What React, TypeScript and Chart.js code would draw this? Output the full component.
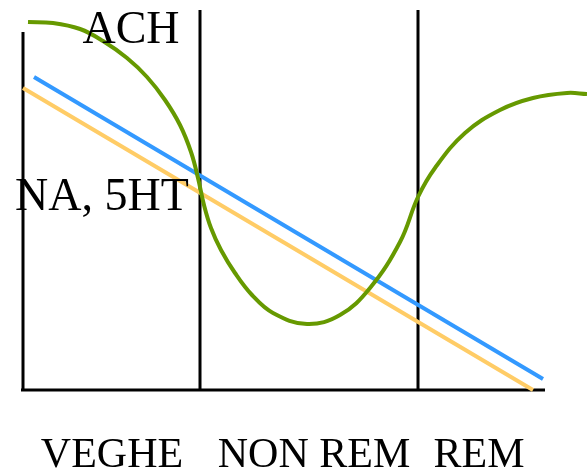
import React, { useEffect, useRef } from "react";
import { Chart, registerables } from "chart.js";

Chart.register(...registerables);

// Horizontal axis: position along the night (0..587), vertical: activity level (baseline = 0)
const xRange = [0, 587];
const levelRange = [-80, 390];

// ACH activity curve
const achX = [28, 53, 80, 103, 127, 147, 165, 180, 191, 198, 204, 211, 221, 235, 252, 273, 307, 340, 370, 400, 418, 435, 465, 500, 533, 567, 587];
const achLevel = [368, 367, 361, 349, 332, 313, 290, 265, 238, 212, 185, 162, 140, 117, 95, 77, 66, 75, 102, 148, 193, 222, 257, 280, 292, 297, 296];

// NA (blue) and 5HT (yellow) straight declines
const naX = [34, 543];
const naLevel = [313, 11];
const htX = [23, 533];
const htLevel = [302, 0];

// Stage dividers and baseline
const dividerX = [23, 200, 418];
const dividerTop = [358, 380, 380];
const baselineX = [21, 545];

// Stage labels
const stageNames = ["VEGHE", "NON REM", "REM"];
const stageX = [112, 314, 479];
const stageLevel = -77;

// Curve labels
const curveNames = ["ACH", "NA, 5HT"];
const curveX = [131, 102];
const curveLevel = [347, 180];

const zip = (xs: number[], ys: number[]) => xs.map((x, i) => ({ x, y: ys[i] }));

export default function App() {
  const ref = useRef<HTMLCanvasElement | null>(null);

  useEffect(() => {
    if (!ref.current) return;

    const textPlugin = {
      id: "textLabels",
      afterDatasetsDraw(chart: any) {
        const { ctx, scales } = chart;
        const sx = scales.x;
        const sy = scales.y;
        ctx.save();
        ctx.fillStyle = "#000000";
        ctx.textAlign = "center";
        ctx.textBaseline = "alphabetic";
        ctx.font = "46px 'Liberation Serif', 'Times New Roman', serif";
        curveNames.forEach((t, i) => {
          ctx.fillText(t, sx.getPixelForValue(curveX[i]), sy.getPixelForValue(curveLevel[i]));
        });
        ctx.font = "42px 'Liberation Serif', 'Times New Roman', serif";
        stageNames.forEach((t, i) => {
          ctx.fillText(t, sx.getPixelForValue(stageX[i]), sy.getPixelForValue(stageLevel));
        });
        ctx.restore();
      },
    };

    const black = "#000000";
    const dividerSets = dividerX.map((x, i) => ({
      label: "divider" + i,
      data: [
        { x, y: 0 },
        { x, y: dividerTop[i] },
      ],
      borderColor: black,
      borderWidth: 3,
      pointRadius: 0,
      tension: 0,
      order: 10,
    }));

    const chart = new Chart(ref.current, {
      type: "line",
      data: {
        datasets: [
          {
            label: "ACH",
            data: zip(achX, achLevel),
            borderColor: "#669900",
            borderWidth: 4,
            pointRadius: 0,
            tension: 0.4,
            order: 1,
          },
          {
            label: "NA",
            data: zip(naX, naLevel),
            borderColor: "#3399FF",
            borderWidth: 4,
            pointRadius: 0,
            order: 2,
          },
          {
            label: "5HT",
            data: zip(htX, htLevel),
            borderColor: "#FFCC66",
            borderWidth: 4,
            pointRadius: 0,
            order: 3,
          },
          ...dividerSets,
          {
            label: "baseline",
            data: [
              { x: baselineX[0], y: 0 },
              { x: baselineX[1], y: 0 },
            ],
            borderColor: black,
            borderWidth: 3,
            pointRadius: 0,
            order: 11,
          },
        ] as any,
      },
      options: {
        responsive: false,
        maintainAspectRatio: false,
        animation: false,
        devicePixelRatio: 1,
        layout: { padding: 0 },
        scales: {
          x: { type: "linear", min: xRange[0], max: xRange[1], display: false },
          y: { type: "linear", min: levelRange[0], max: levelRange[1], display: false },
        },
        plugins: {
          legend: { display: false },
          tooltip: { enabled: false },
        },
      } as any,
      plugins: [textPlugin],
    });

    return () => chart.destroy();
  }, []);

  return (
    <div style={{ position: "fixed", left: 0, top: 0, width: 587, height: 470, background: "#ffffff" }}>
      <canvas ref={ref} width={587} height={470} style={{ display: "block", width: 587, height: 470 }} />
    </div>
  );
}
